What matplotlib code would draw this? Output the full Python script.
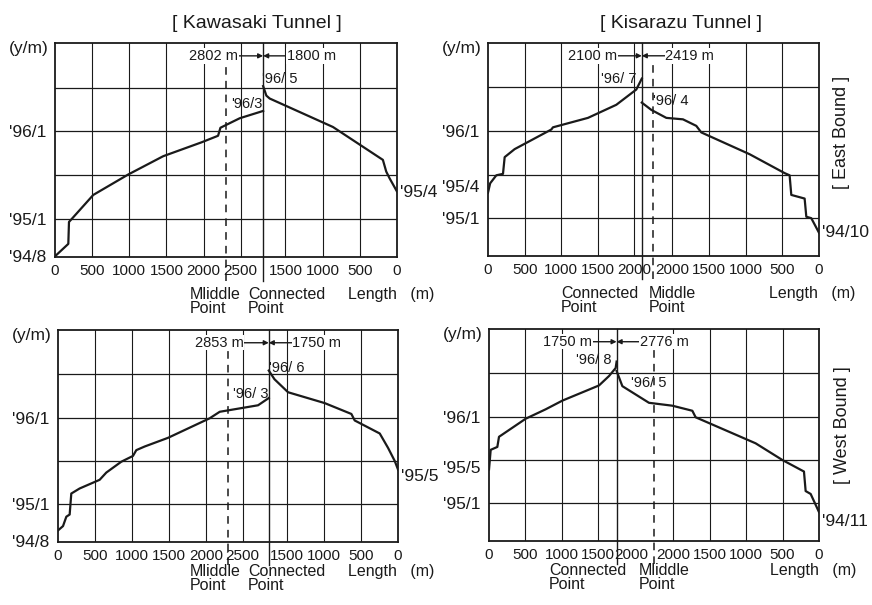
import numpy as np
import matplotlib.pyplot as plt
from matplotlib import font_manager

# time axis: months counted from '94/1 = 0  ('95/1 = 12, '96/1 = 24)
# x: left curve = distance from the left portal (m),
#    right curve = distance from the right portal (m)

# Kawasaki tunnel, east bound
kw_e_len = [2802, 1800]
kw_e_left_x = [0, 179, 188, 224, 515, 986, 1456, 1972, 2195, 2227, 2487, 2802]
kw_e_left_y = [6.9, 8.6, 11.6, 12.0, 15.3, 18.1, 20.6, 22.5, 23.4, 24.5, 25.8, 26.8]
kw_e_right_d = [1800, 1757, 1712, 860, 233, 188, 143, 99, 0]
kw_e_right_y = [30.2, 28.9, 28.5, 24.6, 20.4, 20.1, 18.5, 17.6, 15.8]

# Kisarazu tunnel, east bound
ks_e_len = [2100, 2419]
ks_e_left_x = [0, 30, 114, 205, 228, 364, 865, 887, 1365, 1752, 2025, 2100]
ks_e_left_y = [15.5, 16.8, 17.9, 18.1, 20.4, 21.5, 24.2, 24.5, 25.8, 27.6, 29.7, 31.2]
ks_e_right_d = [2419, 2289, 2084, 1857, 1675, 1607, 947, 469, 401, 378, 196, 173, 105, 0]
ks_e_right_y = [27.9, 26.9, 25.8, 25.6, 24.7, 23.8, 20.8, 18.2, 17.9, 15.2, 14.7, 12.2, 12.0, 10.0]

# Kawasaki tunnel, west bound
kw_w_len = [2853, 1750]
kw_w_left_x = [0, 68, 113, 158, 180, 293, 564, 654, 857, 1015, 1060, 1173, 1489, 2053, 2189, 2708, 2853]
kw_w_left_y = [8.4, 9.0, 10.3, 10.6, 13.5, 14.2, 15.4, 16.4, 17.9, 18.7, 19.5, 20.0, 21.2, 23.9, 24.8, 25.7, 26.7]
kw_w_right_d = [1750, 1673, 1489, 993, 632, 587, 248, 135, 45, 0]
kw_w_right_y = [30.5, 29.3, 27.5, 26.0, 24.5, 23.6, 21.8, 19.8, 18.0, 16.8]

# Kisarazu tunnel, west bound
ks_w_len = [1750, 2776]
ks_w_left_x = [0, 23, 114, 137, 503, 777, 1006, 1509, 1646, 1737, 1750]
ks_w_left_y = [16.7, 19.4, 19.8, 21.2, 23.7, 25.0, 26.2, 28.3, 29.6, 30.7, 31.6]
ks_w_right_d = [2776, 2697, 2332, 2012, 1737, 1692, 869, 503, 206, 183, 114, 0]
ks_w_right_y = [30.3, 28.2, 25.9, 25.5, 24.8, 23.9, 20.3, 18.0, 16.4, 13.7, 13.3, 10.8]

kw_left_ticks = [0, 500, 1000, 1500, 2000, 2500]
kw_right_ticks = [0, 500, 1000, 1500]
ks_e_left_ticks = [0, 500, 1000, 1500, 2000]
ks_w_left_ticks = [0, 500, 1000, 1500, 2000]
ks_right_ticks = [0, 500, 1000, 1500, 2000]

month_grid = [12, 18, 24, 30]

names = {f.name for f in font_manager.fontManager.ttflist}
NARROW = 'Liberation Sans Narrow' if 'Liberation Sans Narrow' in names else 'Liberation Sans'
plt.rcParams['font.family'] = 'Liberation Sans'
INK = '#1a1a1a'


def panel(ax, lens, lx, ly, rd, ry, lticks, rticks, ylab, endlab, labs, bottom, lab_y):
    total = lens[0] + lens[1]
    conn = lens[0]
    mid = total / 2
    ax.set_xlim(0, total)
    ax.set_ylim(6.8, 36.1)
    for s in ax.spines.values():
        s.set_linewidth(1.3)
        s.set_color(INK)

    # grid
    for m in month_grid:
        ax.axhline(m, color=INK, lw=0.9, zorder=1)
    pos, txt = [], []
    for t in lticks:
        if t > conn:
            # label only, squeezed just right of the connected point
            pos.append(conn + 200)
        else:
            pos.append(t)
            if 0 < t:
                ax.axvline(t, color=INK, lw=0.8, zorder=1)
        txt.append(str(t))
    for t in rticks:
        pos.append(total - t)
        txt.append(str(t))
        if 0 < t < lens[1]:
            ax.axvline(total - t, color=INK, lw=0.8, zorder=1)
    ax.set_xticks(pos, txt)
    ax.tick_params(axis='x', length=0, pad=5, labelsize=11, colors=INK)
    for lb in ax.get_xticklabels():
        lb.set_family(NARROW)

    tr = ax.get_xaxis_transform()
    ax.plot([conn, conn], [-0.11, 1], color=INK, lw=1.0, transform=tr, clip_on=False, zorder=2)
    ax.plot([mid, mid], [-0.11, 0.9], color=INK, lw=1.1, ls=(0, (5, 4)), transform=tr,
            clip_on=False, zorder=2)

    # y labels
    yv = [v for v, _ in ylab]
    ax.set_yticks(yv, [s for _, s in ylab])
    ax.tick_params(axis='y', length=0, pad=6, labelsize=12.5, colors=INK)
    for lb in ax.get_yticklabels():
        lb.set_family(NARROW)
    ax.text(-0.018, 0.975, '(y/m)', transform=ax.transAxes, ha='right', va='center',
            fontsize=12.5, family=NARROW, color=INK)
    ax.text(1.008, endlab[1], endlab[0], transform=ax.get_yaxis_transform(), ha='left',
            va='center', fontsize=12.5, family=NARROW, color=INK)

    # curves
    ax.plot(lx, ly, color=INK, lw=1.6, zorder=3)
    ax.plot([total - d for d in rd], ry, color=INK, lw=1.6, zorder=3)

    # lengths with arrows to the connected point
    arr = dict(arrowstyle='-|>', color=INK, lw=1.0, mutation_scale=7, shrinkA=0, shrinkB=0)
    ya = 0.94
    ax.annotate('', xy=(conn, ya), xytext=(conn - 340, ya), xycoords=tr, textcoords=tr,
                arrowprops=arr)
    ax.annotate('', xy=(conn, ya), xytext=(conn + 360, ya), xycoords=tr, textcoords=tr,
                arrowprops=arr)
    ax.text(conn - 340, ya, '%d m' % lens[0], transform=tr, ha='right', va='center',
            fontsize=10.5, family=NARROW, color=INK,
            bbox=dict(facecolor='white', edgecolor='none', pad=0.5))
    ax.text(conn + 320, ya, '%d m' % lens[1], transform=tr, ha='left', va='center',
            fontsize=10.5, family=NARROW, color=INK,
            bbox=dict(facecolor='white', edgecolor='none', pad=0.5))

    # dates at the connected point
    (t1, dx1, y1), (t2, dx2, y2) = labs
    ax.text(conn + dx1, y1, t1, ha='right', va='center', fontsize=10.5, family=NARROW, color=INK)
    ax.text(conn + dx2, y2, t2, ha='left', va='center', fontsize=10.5, family=NARROW, color=INK)

    for x, s in bottom:
        ax.text(x, lab_y, s, transform=ax.transAxes, ha='left', va='top', fontsize=11.5,
                color=INK, linespacing=0.9)


fig = plt.figure(figsize=(8.72, 6.05), dpi=100)
ax1 = fig.add_axes([0.0631, 0.5752, 0.392, 0.3537])
ax2 = fig.add_axes([0.5596, 0.5769, 0.3796, 0.352])
ax3 = fig.add_axes([0.0665, 0.1041, 0.39, 0.3504])
ax4 = fig.add_axes([0.5608, 0.1058, 0.3784, 0.3504])

panel(ax1, kw_e_len, kw_e_left_x, kw_e_left_y, kw_e_right_d, kw_e_right_y,
      kw_left_ticks, kw_right_ticks,
      [(24, "'96/1"), (12, "'95/1"), (7, "'94/8")], ("'95/4", 15.7),
      [("'96/3", -15, 27.7), ("'96/ 5", -10, 31.2)],
      [(0.395, 'Mliddle\nPoint'), (0.564, 'Connected\nPoint'), (0.857, 'Length   (m)')], -0.14)
panel(ax2, ks_e_len, ks_e_left_x, ks_e_left_y, ks_e_right_d, ks_e_right_y,
      ks_e_left_ticks, ks_right_ticks,
      [(24, "'96/1"), (16.4, "'95/4"), (12, "'95/1")], ("'94/10", 10.0),
      [("'96/ 7", -70, 31.1), ("'96/ 4", 150, 28.1)],
      [(0.221, 'Connected\nPoint'), (0.486, 'Middle\nPoint'), (0.849, 'Length   (m)')], -0.14)
panel(ax3, kw_w_len, kw_w_left_x, kw_w_left_y, kw_w_right_d, kw_w_right_y,
      kw_left_ticks, kw_right_ticks,
      [(24, "'96/1"), (12, "'95/1"), (7, "'94/8")], ("'95/5", 15.9),
      [("'96/ 3", 0, 27.2), ("'96/ 6", 0, 30.9)],
      [(0.388, 'Mliddle\nPoint'), (0.559, 'Connected\nPoint'), (0.853, 'Length   (m)')], -0.105)
panel(ax4, ks_w_len, ks_w_left_x, ks_w_left_y, ks_w_right_d, ks_w_right_y,
      ks_w_left_ticks, ks_right_ticks,
      [(24, "'96/1"), (17.0, "'95/5"), (12, "'95/1")], ("'94/11", 9.5),
      [("'96/ 8", -70, 31.8), ("'96/ 5", 200, 28.6)],
      [(0.182, 'Connected\nPoint'), (0.455, 'Mliddle\nPoint'), (0.852, 'Length   (m)')], -0.105)

fig.text(257 / 872, 1 - 23 / 605, '[ Kawasaki Tunnel ]', ha='center', va='center', fontsize=14, color=INK)
fig.text(681 / 872, 1 - 23 / 605, '[ Kisarazu Tunnel ]', ha='center', va='center', fontsize=14, color=INK)
fig.text(841 / 872, 1 - 132 / 605, '[ East Bound ]', rotation=90, ha='center', va='center', fontsize=13, color=INK)
fig.text(842 / 872, 1 - 425 / 605, '[ West Bound ]', rotation=90, ha='center', va='center', fontsize=13, color=INK)

fig.savefig('out.png', dpi=100)
